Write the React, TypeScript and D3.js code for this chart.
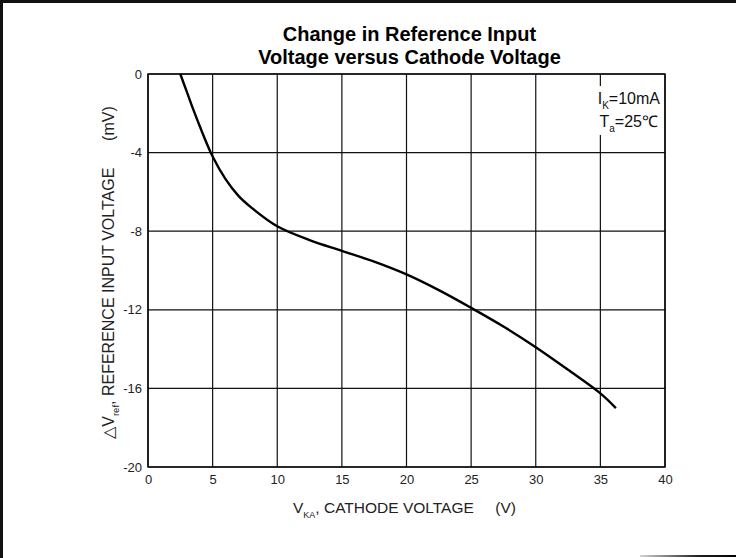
import { useEffect, useRef } from "react";
import * as d3 from "d3";

const W = 736;
const H = 558;
const M = { top: 74, right: 71, bottom: 91, left: 148 };

// curve
const vka = [2.5, 3, 3.5, 4, 5, 6, 7, 8, 10, 12.5, 15, 17.5, 20, 22.5, 25, 27.5, 30, 32.5, 35, 36.2];
const dvref = [0, -0.9, -1.8, -2.65, -4.2, -5.35, -6.2, -6.8, -7.75, -8.45, -9.0, -9.55, -10.2, -11.0, -11.9, -12.85, -13.9, -15.05, -16.25, -17.0];

const xTicks = [0, 5, 10, 15, 20, 25, 30, 35, 40];
const yTicks = [0, -4, -8, -12, -16, -20];
const titleLines = ["Change in Reference Input", "Voltage versus Cathode Voltage"];

const FONT = "Arial, 'Liberation Sans', Helvetica, sans-serif";

export default function App() {
  const svgRef = useRef<SVGSVGElement | null>(null);

  useEffect(() => {
    if (!svgRef.current) return;
    const el = svgRef.current;
    const iW = W - M.left - M.right;
    const iH = H - M.top - M.bottom;

    const root = d3.select(el);
    root.selectAll("*").remove();

    // page frame (top + left rules, faint bottom-right stroke)
    const defs = root.append("defs");
    const grad = defs.append("linearGradient").attr("id", "fade").attr("x1", "0").attr("x2", "1");
    grad.append("stop").attr("offset", "0").attr("stop-color", "#d5d5d5");
    grad.append("stop").attr("offset", "0.6").attr("stop-color", "#222");
    grad.append("stop").attr("offset", "1").attr("stop-color", "#000");
    root.append("rect").attr("x", 0).attr("y", 0).attr("width", W).attr("height", H).attr("fill", "#fff");
    root.append("rect").attr("x", 0).attr("y", 0).attr("width", W).attr("height", 3).attr("fill", "#111");
    root.append("rect").attr("x", 0).attr("y", 0).attr("width", 3).attr("height", H).attr("fill", "#111");
    root.append("rect").attr("x", 640).attr("y", 555).attr("width", 96).attr("height", 2).attr("fill", "url(#fade)");

    // title
    titleLines.forEach((t, i) => {
      root.append("text")
        .attr("x", M.left + iW / 2 + 3).attr("y", 41 + i * 23)
        .attr("text-anchor", "middle").attr("font-family", FONT)
        .attr("font-weight", "bold").attr("font-size", 20).attr("fill", "#000")
        .text(t);
    });

    const svg = root.append("g").attr("transform", `translate(${M.left},${M.top})`);

    const x = d3.scaleLinear().domain([0, 40]).range([0, iW]);
    const y = d3.scaleLinear().domain([-20, 0]).range([iH, 0]);

    // grid
    xTicks.forEach(v => {
      svg.append("line")
        .attr("x1", x(v)).attr("x2", x(v)).attr("y1", 0).attr("y2", iH)
        .attr("stroke", "#111").attr("stroke-width", 1.2);
    });
    yTicks.forEach(v => {
      svg.append("line")
        .attr("x1", 0).attr("x2", iW).attr("y1", y(v)).attr("y2", y(v))
        .attr("stroke", "#111").attr("stroke-width", 1.2);
    });
    svg.append("rect").attr("width", iW).attr("height", iH)
      .attr("fill", "none").attr("stroke", "#000").attr("stroke-width", 1.4);

    // tick labels
    const xAxis = svg.append("g").attr("transform", `translate(0,${iH})`)
      .call(d3.axisBottom(x).tickValues(xTicks).tickSize(0).tickPadding(8).tickFormat(d => String(d)));
    xAxis.select(".domain").remove();
    xAxis.selectAll("text").attr("font-size", 13).attr("font-family", FONT).attr("fill", "#222");

    const yAxis = svg.append("g")
      .call(d3.axisLeft(y).tickValues(yTicks).tickSize(0).tickPadding(6).tickFormat(d => String(d)));
    yAxis.select(".domain").remove();
    yAxis.selectAll("text").attr("font-size", 13).attr("font-family", FONT).attr("fill", "#222");

    // curve
    const pts = vka.map((v, i) => [v, dvref[i]] as [number, number]);
    const line = d3.line<[number, number]>()
      .x(d => x(d[0]))
      .y(d => y(d[1]))
      .curve(d3.curveCatmullRom.alpha(0.5));
    svg.append("path").datum(pts)
      .attr("fill", "none").attr("stroke", "#000")
      .attr("stroke-width", 2.4).attr("d", line);

    // conditions box (white backing hides the grid behind it)
    svg.append("rect")
      .attr("x", x(40) - 74).attr("y", 12).attr("width", 72).attr("height", 49)
      .attr("fill", "#fff");
    const cond = svg.append("g").attr("font-family", FONT).attr("font-size", 16).attr("fill", "#111");
    const c1 = cond.append("text").attr("x", x(40) - 5).attr("y", 30).attr("text-anchor", "end");
    c1.append("tspan").text("I");
    c1.append("tspan").attr("font-size", 10).attr("dy", 5).text("K");
    c1.append("tspan").attr("dy", -5).text("=10mA");
    const c2 = cond.append("text").attr("x", x(40) - 7).attr("y", 53).attr("text-anchor", "end");
    c2.append("tspan").text("T");
    c2.append("tspan").attr("font-size", 10).attr("dy", 5).text("a");
    c2.append("tspan").attr("dy", -5).text("=25\u2103");

    // x title
    const xt = root.append("text")
      .attr("x", M.left + iW / 2 - 2).attr("y", 513)
      .attr("text-anchor", "middle").attr("font-family", FONT)
      .attr("font-size", 15.5).attr("fill", "#222")
      .attr("style", "white-space: pre");
    xt.append("tspan").text("V");
    xt.append("tspan").attr("font-size", 9).attr("dy", 5).text("KA");
    xt.append("tspan").attr("dy", -5).text(", CATHODE VOLTAGE     (V)");

    // y title
    const yt = root.append("text")
      .attr("transform", `translate(114,${M.top + iH / 2 + 2}) rotate(-90)`)
      .attr("text-anchor", "middle").attr("font-family", FONT)
      .attr("font-size", 16).attr("fill", "#222")
      .attr("style", "white-space: pre");
    yt.append("tspan").text("\u25B3V");
    yt.append("tspan").attr("font-size", 9.5).attr("dy", 5).text("ref");
    yt.append("tspan").attr("dy", -5).text(", REFERENCE INPUT VOLTAGE      (mV)");
  }, []);

  return (
    <svg
      ref={svgRef}
      width={W}
      height={H}
      style={{ position: "absolute", left: 0, top: 0, display: "block" }}
    />
  );
}
